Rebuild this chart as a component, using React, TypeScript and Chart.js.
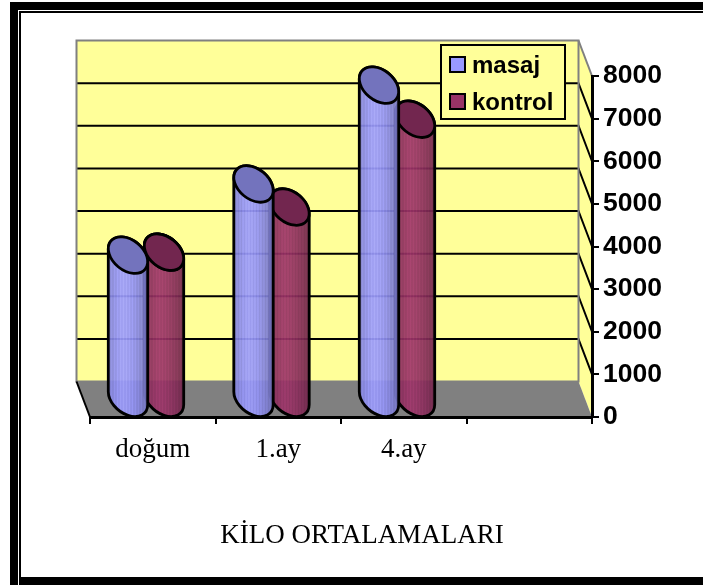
import React, { useEffect, useRef } from "react";
import { Chart, registerables } from "chart.js";

Chart.register(...registerables);

const categories = ["doğum", "1.ay", "4.ay", ""];
const masaj = [3380, 5050, 7370, null];
const kontrol = [3450, 4510, 6570, null];
const yMax = 8000;
const yStep = 1000;
const titleText = "KİLO ORTALAMALARI";

const DX = -13.5;
const DY = -35.5;
const WALL = "#FFFF99";
const GRAY = "#808080";

const hex = (r: number, g: number, b: number, a = 1) => `rgba(${Math.round(r)},${Math.round(g)},${Math.round(b)},${a})`;

function bodyGradient(ctx: CanvasRenderingContext2D, x0: number, x1: number, rgb: number[]) {
  const g = ctx.createLinearGradient(x0, 0, x1, 0);
  const n = 26;
  for (let i = 0; i <= n; i++) {
    const t = i / n;
    const shade = t < 0.35 ? 0.82 + (t / 0.35) * 0.18 : 1 - ((t - 0.35) / 0.65) ** 1.6 * 0.3;
    const stripe = i % 2 === 0 ? 1.07 : 0.97;
    const k = shade * stripe;
    g.addColorStop(t, hex(Math.min(255, rgb[0] * k), Math.min(255, rgb[1] * k), Math.min(255, rgb[2] * k), 0.92));
  }
  return g;
}

function ellipseParams(width: number) {
  const R = width * 0.54;
  const a = R * 1.14;
  const b = R * 0.78;
  const th = (39 * Math.PI) / 180;
  const tR = Math.atan2(-b * Math.sin(th), a * Math.cos(th));
  return { a, b, th, tR, R };
}

function drawBody(ctx: CanvasRenderingContext2D, el: any, rgb: number[]) {
  const { a, b, th, tR, R } = ellipseParams(el.width);
  const cx = el.x + DX / 2;
  const topY = el.y + DY / 2;
  const botY = el.base + DY / 2;
  ctx.beginPath();
  ctx.ellipse(cx, botY, a, b, th, tR, tR + Math.PI);
  ctx.ellipse(cx, topY, a, b, th, tR + Math.PI, tR + 2 * Math.PI);
  ctx.closePath();
  ctx.fillStyle = bodyGradient(ctx, cx - R, cx + R, rgb);
  ctx.fill();
  ctx.lineWidth = 2.8;
  ctx.strokeStyle = "#000";
  ctx.stroke();
}

function drawTop(ctx: CanvasRenderingContext2D, el: any, color: string) {
  const { a, b, th } = ellipseParams(el.width);
  ctx.beginPath();
  ctx.ellipse(el.x + DX / 2, el.y + DY / 2, a, b, th, 0, 2 * Math.PI);
  ctx.fillStyle = color;
  ctx.fill();
  ctx.lineWidth = 2.8;
  ctx.strokeStyle = "#000";
  ctx.stroke();
}

const topColors = ["#7373BD", "#72264F"];
const bodyColors = [[153, 153, 255], [153, 51, 102]];

const scenePlugin = {
  id: "scene3d",
  afterLayout(chart: any) {
    // the caption is centred on the whole canvas, not on the padded box
    chart.titleBlock.left = 0;
  },
  beforeDraw(chart: any) {
    const { ctx, chartArea: ca, scales } = chart;
    const y = scales.y;
    ctx.save();
    const l = ca.left, r = ca.right, t = ca.top, b = ca.bottom;
    ctx.fillStyle = WALL;
    ctx.fillRect(l + DX, t + DY, r - l, b - t);
    ctx.beginPath();
    ctx.moveTo(r + DX, t + DY);
    ctx.lineTo(r, t);
    ctx.lineTo(r, b);
    ctx.lineTo(r + DX, b + DY);
    ctx.closePath();
    ctx.fill();
    ctx.strokeStyle = "#000";
    ctx.lineWidth = 2;
    y.ticks.forEach((tick: any) => {
      if (tick.value === 0 || tick.value === yMax) return;
      const py = y.getPixelForValue(tick.value);
      ctx.beginPath();
      ctx.moveTo(l + DX, py + DY);
      ctx.lineTo(r + DX, py + DY);
      ctx.lineTo(r, py);
      ctx.stroke();
    });
    ctx.fillStyle = GRAY;
    ctx.beginPath();
    ctx.moveTo(l + DX, b + DY);
    ctx.lineTo(r + DX, b + DY);
    ctx.lineTo(r, b);
    ctx.lineTo(l, b);
    ctx.closePath();
    ctx.fill();
    ctx.strokeStyle = GRAY;
    ctx.lineWidth = 2;
    ctx.strokeRect(l + DX, t + DY, r - l, b - t);
    ctx.beginPath();
    ctx.moveTo(r + DX, t + DY);
    ctx.lineTo(r, t);
    ctx.stroke();
    ctx.strokeStyle = "#000";
    ctx.lineWidth = 2;
    ctx.beginPath();
    ctx.moveTo(l + DX, b + DY);
    ctx.lineTo(l, b);
    ctx.stroke();

    const lx = r - 151, ly = t - 31;
    ctx.fillStyle = WALL;
    ctx.fillRect(lx, ly, 124, 74);
    ctx.strokeStyle = "#000";
    ctx.lineWidth = 2;
    ctx.strokeRect(lx, ly, 124, 74);
    ctx.font = "bold 24px 'Liberation Sans'";
    ctx.textBaseline = "alphabetic";
    ctx.textAlign = "left";
    chart.data.datasets.forEach((ds: any, i: number) => {
      const sy = ly + 12 + i * 37;
      ctx.fillStyle = ds.backgroundColor;
      ctx.fillRect(lx + 9, sy, 15, 15);
      ctx.strokeRect(lx + 9, sy, 15, 15);
      ctx.fillStyle = "#000";
      ctx.fillText(ds.label, lx + 31, sy + 16);
    });
    ctx.restore();
  },
  beforeDatasetDraw(chart: any, args: any) {
    const ctx = chart.ctx;
    ctx.save();
    args.meta.data.forEach((el: any, i: number) => {
      if (chart.data.datasets[args.index].data[i] == null) return;
      drawBody(ctx, el, bodyColors[args.index]);
      drawTop(ctx, el, topColors[args.index]);
    });
    ctx.restore();
    return false;
  },
  afterDatasetsDraw(chart: any) {
    const ctx = chart.ctx;
    const metaK = chart.getDatasetMeta(1);
    ctx.save();
    metaK.data.forEach((el: any, i: number) => {
      const k = kontrol[i], m = masaj[i];
      if (k != null && m != null && k > m) drawTop(ctx, el, topColors[1]);
    });
    ctx.restore();
  },
};

export default function App() {
  const ref = useRef<HTMLCanvasElement>(null);
  useEffect(() => {
    const chart = new Chart(ref.current as HTMLCanvasElement, {
      type: "bar",
      data: {
        labels: categories,
        datasets: [
          { label: "masaj", data: masaj, backgroundColor: "#9999FF", borderColor: "#000", borderWidth: 2, categoryPercentage: 0.574, barPercentage: 1 },
          { label: "kontrol", data: kontrol, backgroundColor: "#993366", borderColor: "#000", borderWidth: 2, categoryPercentage: 0.574, barPercentage: 1 },
        ],
      },
      options: {
        responsive: false,
        animation: false,
        layout: { padding: { left: 69, top: 76, right: 0, bottom: 33 } },
        plugins: {
          legend: { display: false },
          tooltip: { enabled: false },
          title: {
            display: true,
            text: titleText,
            position: "bottom",
            color: "#000",
            font: { family: "'Liberation Serif'", size: 27, weight: "normal" },
            padding: 0,
          },
        },
        scales: {
          x: {
            offset: true,
            grid: { offset: true, drawOnChartArea: false, drawTicks: true, tickLength: 7, lineWidth: 2, color: "#000" },
            border: { display: true, color: "#000", width: 3 },
            ticks: { color: "#000", font: { family: "'Liberation Serif'", size: 27 }, padding: 10, maxRotation: 0 },
            afterFit(s: any) { s.height = 102.6; },
          },
          y: {
            position: "right",
            min: 0,
            max: yMax,
            grid: { drawOnChartArea: false, drawTicks: true, tickLength: 7, lineWidth: 2, color: "#000" },
            border: { display: true, color: "#000", width: 3 },
            ticks: {
              stepSize: yStep,
              color: "#000",
              font: { family: "'Liberation Sans'", size: 26.5, weight: "bold" },
              padding: 4,
              autoSkip: false,
              callback: (v: any) => String(v),
            },
            afterFit(s: any) { s.width = 111; },
          },
        },
      },
      plugins: [scenePlugin],
    } as any);
    return () => chart.destroy();
  }, []);

  const black = (style: React.CSSProperties) => <div style={{ position: "absolute", background: "#000", ...style }} />;
  return (
    <div style={{ position: "fixed", left: 0, top: 0, width: 703, height: 585, background: "#fff", overflow: "hidden" }}>
      {black({ left: 10, top: 2, width: 693, height: 8 })}
      {black({ left: 10, top: 2, width: 8, height: 583 })}
      {black({ left: 19, top: 11, width: 684, height: 2 })}
      {black({ left: 19, top: 11, width: 2, height: 574 })}
      {black({ left: 19, top: 577, width: 684, height: 8 })}
      <canvas ref={ref} width={682} height={585} style={{ position: "absolute", left: 21, top: 0, width: 682, height: 585 }} />
    </div>
  );
}
